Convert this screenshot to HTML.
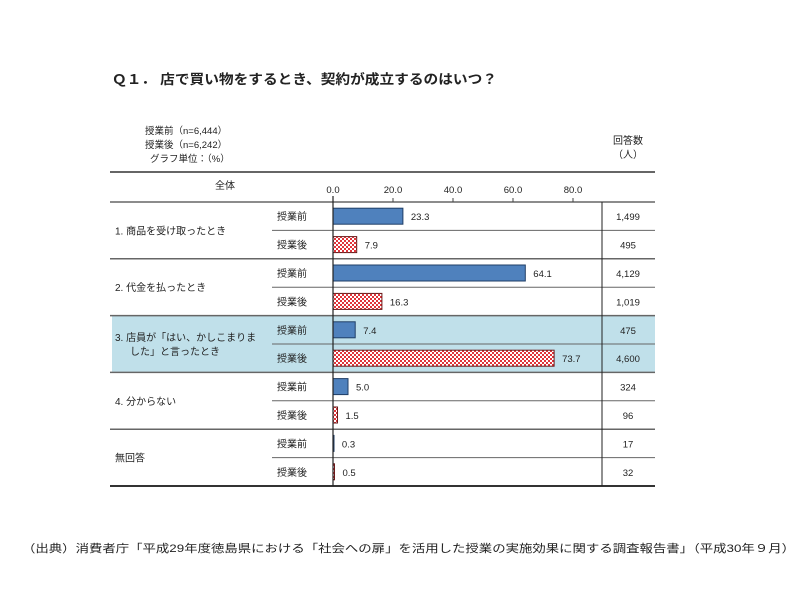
<!DOCTYPE html>
<html><head><meta charset="utf-8"><style>
body{margin:0;background:#fff;width:810px;height:608px;overflow:hidden;font-family:"Liberation Sans","Noto Sans CJK JP",sans-serif;}
svg text{font-family:"Liberation Sans","Noto Sans CJK JP",sans-serif;}
</style></head><body>
<svg width="810" height="608">
<defs>
<pattern id="chk" width="4" height="4" patternUnits="userSpaceOnUse">
<rect width="4" height="4" fill="#fff"/><rect width="2" height="2" fill="#e0343a"/><rect x="2" y="2" width="2" height="2" fill="#e0343a"/>
</pattern>
</defs>
<text x="112" y="84" font-size="13.5" font-weight="bold" fill="#222" textLength="385" lengthAdjust="spacingAndGlyphs">Ｑ１．  店で買い物をするとき、契約が成立するのはいつ？</text>
<g font-size="9.5" fill="#222">
<text x="145" y="134">授業前（n=6,444）</text>
<text x="145" y="148">授業後（n=6,242）</text>
<text x="150" y="162">グラフ単位：（%）</text>
</g>
<text x="628" y="144" font-size="10" text-anchor="middle" fill="#222">回答数</text>
<text x="628" y="158" font-size="10" text-anchor="middle" fill="#222">（人）</text>
<rect x="112" y="315" width="543" height="56.8" fill="#c0e0ea"/>
<g id="lines" stroke="#666"></g>
<text x="225" y="189" font-size="10" text-anchor="middle" fill="#222">全体</text>
<g id="axis"></g>
<g id="rows"></g>
<line x1="333" y1="196" x2="333" y2="486" stroke="#222" stroke-width="1.2"/>
<line x1="602" y1="202" x2="602" y2="486" stroke="#222"/>
<text x="22" y="552" font-size="11" fill="#222" textLength="773" lengthAdjust="spacingAndGlyphs">（出典）消費者庁「平成29年度徳島県における「社会への扉」を活用した授業の実施効果に関する調査報告書」（平成30年９月）</text>
</svg>
<script>
const categories=["1. 商品を受け取ったとき","2. 代金を払ったとき","3. 店員が「はい、かしこまりま|した」と言ったとき","4. 分からない","無回答"];
const beforeValues=[23.3,64.1,7.4,5.0,0.3];
const afterValues=[7.9,16.3,73.7,1.5,0.5];
const beforeCounts=["1,499","4,129","475","324","17"];
const afterCounts=["495","1,019","4,600","96","32"];
const ticks=[0,20,40,60,80];
const NS="http://www.w3.org/2000/svg";
const x0=333,pxPer=3,top0=202,rowH=28.4;
const xs=v=>x0+v*pxPer;
function mk(t,a,p,txt){const e=document.createElementNS(NS,t);for(const k in a)e.setAttribute(k,a[k]);if(txt!==undefined)e.textContent=txt;p.appendChild(e);return e;}
const L=document.getElementById('lines'),A=document.getElementById('axis'),R=document.getElementById('rows');
let l=mk('line',{x1:110,x2:655,y1:172,y2:172,'stroke-width':1.5,stroke:'#333'},L);

ticks.forEach(t=>{
 const tx=mk('text',{x:xs(t),y:193,'font-size':9.5,'text-anchor':'middle',fill:'#222'},A,t.toFixed(1));
 
 const tk=mk('line',{x1:xs(t),x2:xs(t),y1:198,y2:202,stroke:'#444'},A);
 
});
categories.forEach((c,i)=>{
 const gy=top0+i*2*rowH;
 const gl=mk('line',{x1:110,x2:655,y1:gy,y2:gy,'stroke-width':1.5},L);
 
 const sl=mk('line',{x1:272,x2:655,y1:gy+rowH,y2:gy+rowH,'stroke-width':1},L);
 
 const parts=c.split('|');
 parts.forEach((p,j)=>{
  const ty=parts.length>1?gy+rowH-3+j*14:gy+rowH+4;
  const ct=mk('text',{x:j?130:115,y:ty,'font-size':10,fill:'#222'},R,p);
  
 });
 [[beforeValues[i],beforeCounts[i],'授業前','#4f81bd','before'],[afterValues[i],afterCounts[i],'授業後','url(#chk)','after']].forEach((d,k)=>{
  const cy=gy+rowH*k+rowH/2;
  const lb=mk('text',{x:277,y:cy+4,'font-size':10,fill:'#222'},R,d[2]);
  
  const b=mk('rect',{x:x0,y:cy-8,width:Math.max(d[0]*pxPer,1),height:16,fill:d[3],stroke:k?'#6a1a1a':'#1f3e66','stroke-width':1},R);
  
  const v=mk('text',{x:xs(d[0])+8,y:cy+4,'font-size':9.5,fill:'#222'},R,d[0].toFixed(1));
  
  const n=mk('text',{x:628,y:cy+4,'font-size':9.5,'text-anchor':'middle',fill:'#222'},R,d[1]);
  
 });
});
const bl=mk('line',{x1:110,x2:655,y1:top0+10*rowH,y2:top0+10*rowH,'stroke-width':2,stroke:'#333'},L);

</script>
</body></html>
